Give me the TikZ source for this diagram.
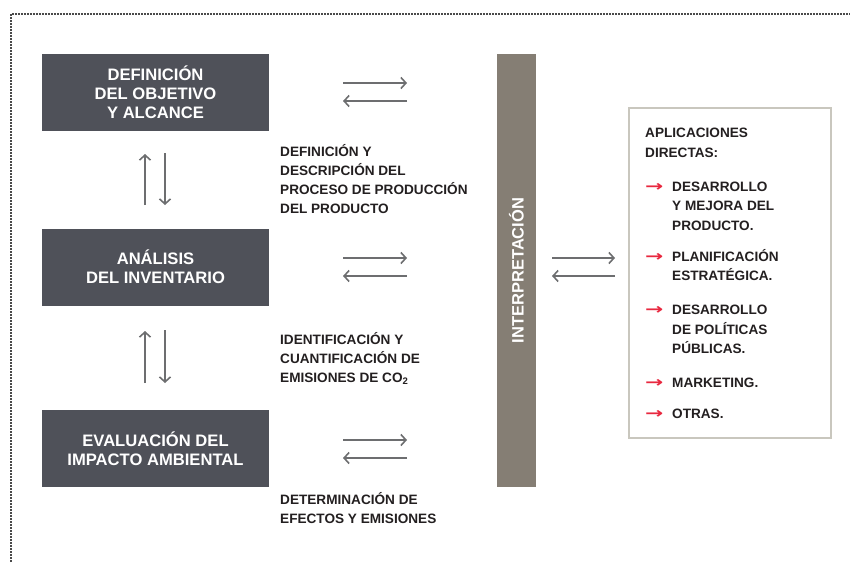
\documentclass[tikz,border=0pt]{standalone}
\usepackage{fontspec}
\setmainfont{Liberation Sans}
\newfontfamily\arrowfont{DejaVu Sans}
\usetikzlibrary{arrows.meta}
\definecolor{boxdark}{HTML}{4F5159}
\definecolor{barcol}{HTML}{857E74}
\definecolor{arr}{HTML}{6D6E70}
\definecolor{redarr}{HTML}{E8283F}
\definecolor{txt}{HTML}{231F20}
\definecolor{framecol}{HTML}{C9C7BE}
\definecolor{dotcol}{HTML}{4A4A4A}
\newcommand\redbullet{\makebox[27pt][l]{\textcolor{redarr}{\scalebox{1.6}[1.1]{\arrowfont →}}}}
\newcommand\indentline{\hspace*{27pt}}
\begin{document}
\begin{tikzpicture}[x=1pt,y=-1pt,
  stagebox/.style={fill=boxdark, text=white, font=\bfseries\fontsize{16.6}{19}\selectfont,
    align=center, minimum width=227pt, minimum height=77pt, inner sep=0pt},
  side/.style={anchor=north west, align=left, text=txt,
    font=\bfseries\fontsize{13.6}{19}\selectfont, inner sep=0pt},
  flow/.style={draw=arr, line width=1.6pt, -{Straight Barb[length=5pt,width=11pt]}},
]
\useasboundingbox (0,0) rectangle (850,562);
% dotted frame
\draw[dotcol, line width=1.8pt, dash pattern=on 1.6pt off 1.4pt] (11,562) -- (11,14) -- (850,14);

% stage boxes
\node[stagebox] (b1) at (155.5,92) {DEFINICIÓN\\DEL OBJETIVO\\Y ALCANCE};
\node[stagebox] (b2) at (155.5,267) {ANÁLISIS\\DEL INVENTARIO};
\node[stagebox] (b3) at (155.5,448.5) {EVALUACIÓN DEL\\IMPACTO AMBIENTAL};

% interpretation bar
\node[fill=barcol, minimum width=39pt, minimum height=433pt, inner sep=0pt] (bar) at (516.5,270.5) {};
\node[rotate=90, text=white, font=\bfseries\fontsize{16.5}{18}\selectfont] (barlabel) at (bar.center) {INTERPRETACIÓN};

% vertical arrows
\coordinate (v1a) at (145,205); \coordinate (v1b) at (145,154);
\coordinate (v1c) at (165,153); \coordinate (v1d) at (165,205);
\coordinate (v2a) at (145,383); \coordinate (v2b) at (145,331);
\coordinate (v2c) at (165,330); \coordinate (v2d) at (165,383);
\draw[flow] (v1a) -- (v1b);
\draw[flow] (v1c) -- (v1d);
\draw[flow] (v2a) -- (v2b);
\draw[flow] (v2c) -- (v2d);

% horizontal arrows
\foreach \n/\y in {h1/83, h2/258, h3/440} {
  \coordinate (\n l) at (343,\y); \coordinate (\n r) at (407,\y);
  \coordinate (\n lb) at (343,\y+18); \coordinate (\n rb) at (407,\y+18);
}
\draw[flow] (h1l) -- (h1r); \draw[flow] (h1rb) -- (h1lb);
\draw[flow] (h2l) -- (h2r); \draw[flow] (h2rb) -- (h2lb);
\draw[flow] (h3l) -- (h3r); \draw[flow] (h3rb) -- (h3lb);
\coordinate (r1l) at (552,258); \coordinate (r1r) at (615,258);
\coordinate (r2l) at (552,276); \coordinate (r2r) at (615,276);
\draw[flow] (r1l) -- (r1r);
\draw[flow] (r2r) -- (r2l);

% side texts
\node[side] (t1) at (280,144) {DEFINICIÓN Y\\DESCRIPCIÓN DEL\\PROCESO DE PRODUCCIÓN\\DEL PRODUCTO};
\node[side] (t2) at (280,332) {IDENTIFICACIÓN Y\\CUANTIFICACIÓN DE\\EMISIONES DE CO\textsubscript{2}};
\node[side] (t3) at (280,492) {DETERMINACIÓN DE\\EFECTOS Y EMISIONES};

% applications box
\node[draw=framecol, line width=2pt, minimum width=202pt, minimum height=330pt, inner sep=0pt] (apps) at (730,273) {};
\node[side, font=\bfseries\fontsize{13.6}{19.5}\selectfont] (list) at (645,128) {APLICACIONES\\DIRECTAS:\\[14.5pt]
\redbullet DESARROLLO\\\indentline Y MEJORA DEL\\\indentline PRODUCTO.\\[11.5pt]
\redbullet PLANIFICACIÓN\\\indentline ESTRATÉGICA.\\[14.5pt]
\redbullet DESARROLLO\\\indentline DE POLÍTICAS\\\indentline PÚBLICAS.\\[14.5pt]
\redbullet MARKETING.\\[11.5pt]
\redbullet OTRAS.};
\end{tikzpicture}
\end{document}
